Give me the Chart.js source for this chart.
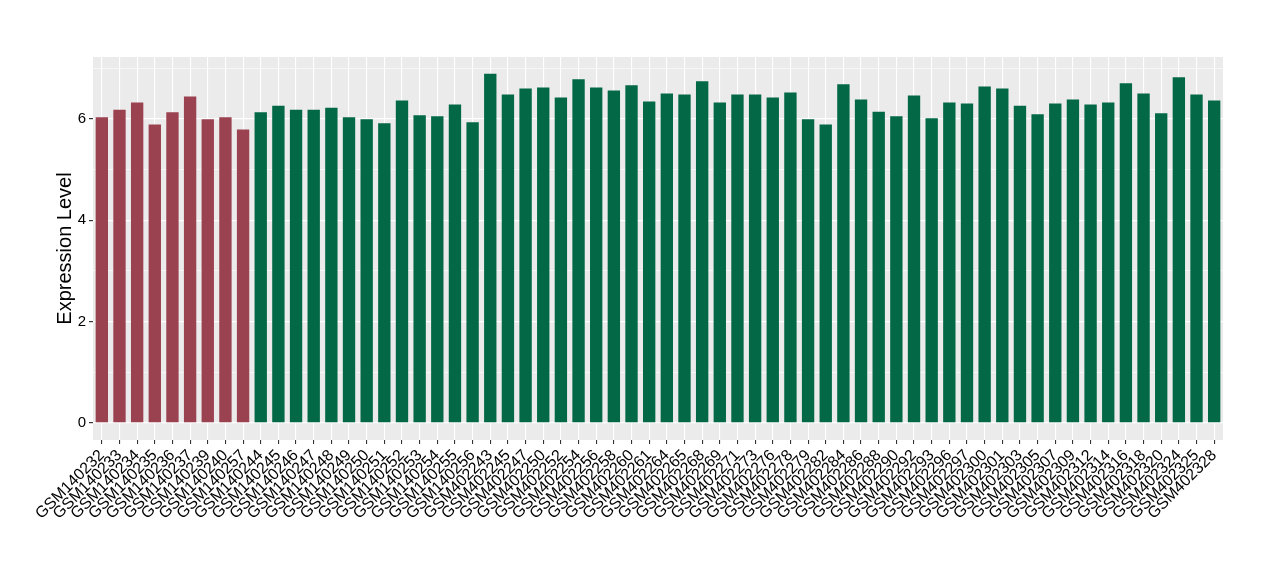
<!DOCTYPE html>
<html lang="en">
<head>
  <meta charset="UTF-8">
  <title>Expression Level</title>
  <script src="https://cdn.jsdelivr.net/npm/chart.js"></script>
  <style>
    body { margin: 0; background: #fff; }
  </style>
</head>
<body>
  <canvas id="exprChart" width="1280" height="580"></canvas>

  <script>
    // sample names, in plot order
    const samples = [
      'GSM140232', 'GSM140233', 'GSM140234', 'GSM140235', 'GSM140236', 'GSM140237', 'GSM140239', 'GSM140240', 'GSM140257',
      'GSM140244', 'GSM140245', 'GSM140246', 'GSM140247', 'GSM140248', 'GSM140249', 'GSM140250', 'GSM140251', 'GSM140252',
      'GSM140253', 'GSM140254', 'GSM140255', 'GSM140256',
      'GSM402243', 'GSM402245', 'GSM402247', 'GSM402250', 'GSM402252', 'GSM402254', 'GSM402256', 'GSM402258', 'GSM402260',
      'GSM402261', 'GSM402264', 'GSM402265', 'GSM402268', 'GSM402269', 'GSM402271', 'GSM402273', 'GSM402276', 'GSM402278',
      'GSM402279', 'GSM402282', 'GSM402284', 'GSM402286', 'GSM402288', 'GSM402290', 'GSM402292', 'GSM402293', 'GSM402296',
      'GSM402297', 'GSM402300', 'GSM402301', 'GSM402303', 'GSM402305', 'GSM402307', 'GSM402309', 'GSM402312', 'GSM402314',
      'GSM402316', 'GSM402318', 'GSM402320', 'GSM402324', 'GSM402325', 'GSM402328'
    ];

    // expression values
    const levels = [
      6.03, 6.18, 6.32, 5.89, 6.13, 6.44, 5.99, 6.03, 5.79,
      6.13, 6.26, 6.18, 6.18, 6.22, 6.03, 5.99, 5.91, 6.36,
      6.07, 6.05, 6.28, 5.93,
      6.89, 6.48, 6.60, 6.62, 6.42, 6.78, 6.62, 6.56, 6.66,
      6.34, 6.50, 6.48, 6.74, 6.32, 6.48, 6.48, 6.42, 6.52,
      5.99, 5.89, 6.68, 6.38, 6.14, 6.05, 6.46, 6.01, 6.32,
      6.30, 6.64, 6.60, 6.26, 6.09, 6.30, 6.38, 6.28, 6.32,
      6.70, 6.50, 6.11, 6.82, 6.48, 6.36
    ];

    // group of each sample: first 9 are one group, rest the other
    const groups = samples.map((s, i) => i < 9 ? 'A' : 'B');
    const groupColors = { A: '#9B4251', B: '#036846' };

    const yTicks = [0, 1, 2, 3, 4, 5, 6, 7];

    // grey panel behind the plot, like ggplot
    const panelBg = {
      id: 'panelBg',
      beforeDraw(chart) {
        const a = chart.chartArea;
        const ctx = chart.ctx;
        ctx.save();
        ctx.fillStyle = '#EBEBEB';
        ctx.fillRect(a.left, a.top, a.right - a.left, a.bottom - a.top);
        ctx.restore();
      }
    };

    const ctx = document.getElementById('exprChart').getContext('2d');
    new Chart(ctx, {
      type: 'bar',
      data: {
        labels: samples,
        datasets: [{
          data: levels,
          backgroundColor: groups.map(g => groupColors[g]),
          borderWidth: 0,
          barPercentage: 0.7,
          categoryPercentage: 1.0
        }]
      },
      plugins: [panelBg],
      options: {
        responsive: false,
        animation: false,
        layout: { padding: { top: 57, right: 57, left: 0, bottom: 0 } },
        plugins: {
          legend: { display: false },
          tooltip: { enabled: false }
        },
        scales: {
          x: {
            offset: true,
            grid: {
              offset: false,
              color: '#FFFFFF',
              lineWidth: 1.1,
              drawTicks: true,
              tickLength: 4,
              tickColor: '#333333'
            },
            border: { display: false },
            ticks: {
              autoSkip: false,
              maxRotation: 45,
              minRotation: 45,
              padding: 2,
              color: '#000000',
              font: { family: 'Liberation Sans, Arial, sans-serif', size: 16 }
            },
            afterFit(scale) { scale.height = 140; }
          },
          y: {
            min: -0.34,
            max: 7.22,
            afterBuildTicks(scale) {
              scale.ticks = yTicks.map(v => ({ value: v }));
            },
            grid: {
              color: '#FFFFFF',
              lineWidth: c => (c.tick && c.tick.value % 2 === 0) ? 1.2 : 0.6,
              tickLength: 4,
              tickColor: c => (c.tick && c.tick.value % 2 === 0) ? '#333333' : 'rgba(0,0,0,0)'
            },
            border: { display: false },
            ticks: {
              autoSkip: false,
              padding: 3,
              color: '#000000',
              font: { family: 'Liberation Sans, Arial, sans-serif', size: 15 },
              callback: v => (v % 2 === 0 ? String(v) : '')
            },
            title: {
              display: true,
              text: 'Expression Level',
              color: '#000000',
              font: { family: 'Liberation Sans, Arial, sans-serif', size: 20 },
              padding: { top: 53, bottom: 4 }
            },
            afterFit(scale) { scale.width = 93; }
          }
        }
      }
    });
  </script>
</body>
</html>
